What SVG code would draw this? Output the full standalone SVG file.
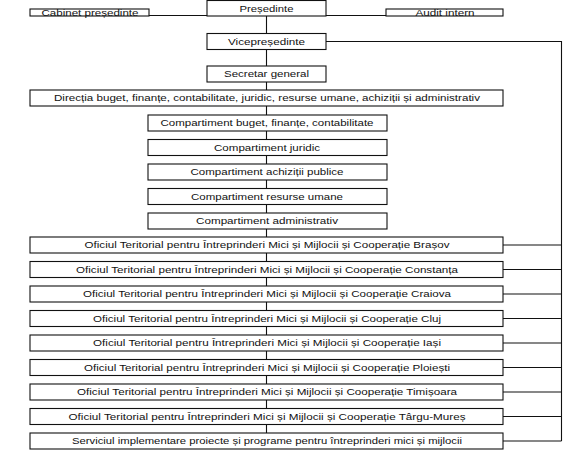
<svg xmlns="http://www.w3.org/2000/svg" width="567" height="451" viewBox="0 0 567 451">
<style>
rect{fill:#fff;stroke:#111;stroke-width:1.1}
text{font-family:"Liberation Sans",Arial,sans-serif;font-size:9px;fill:#111;text-anchor:middle}
#connectors path{fill:none;stroke:#111;stroke-width:1.1}
</style>
<rect x="0" y="0" width="567" height="451" style="stroke:none"/>
<g id="connectors">
<path d="M149 15.5H207M326 15.5H386"/>
<path d="M266.5 16V33.5M266.5 49.5V66M266.5 82V90M266.5 106V115M266.5 131V139.5M266.5 155.5V164M266.5 180V188.5M266.5 204.5V213M266.5 229V237M266.5 253V261.5M266.5 277.5V286M266.5 302V310.5M266.5 326.5V335M266.5 351V359.5M266.5 375.5V384M266.5 400V408.5M266.5 424.5V433"/>
<path d="M326 41.5H561.5V441M503 245H561.5M503 269.5H561.5M503 294H561.5M503 318.5H561.5M503 343H561.5M503 367.5H561.5M503 392H561.5M503 416.5H561.5M503 441H561.5"/>
</g>
<g id="presedinte"><rect x="207" y="0.5" width="119" height="15.5"/><text x="266.5" y="11.5" textLength="54" lengthAdjust="spacingAndGlyphs">Președinte</text></g>
<g id="cabinet"><rect x="30" y="9" width="119" height="7"/><text x="90" y="15.5" textLength="97" lengthAdjust="spacingAndGlyphs">Cabinet președinte</text></g>
<g id="audit"><rect x="386" y="9" width="117" height="7"/><text x="445" y="15.5" textLength="59" lengthAdjust="spacingAndGlyphs">Audit intern</text></g>
<g id="vicepresedinte"><rect x="207" y="33.5" width="119" height="16"/><text x="266.5" y="44.7" textLength="77" lengthAdjust="spacingAndGlyphs">Vicepreședinte</text></g>
<g id="secretar"><rect x="207" y="66" width="119" height="16"/><text x="266.5" y="77.2" textLength="85" lengthAdjust="spacingAndGlyphs">Secretar general</text></g>
<g id="directia"><rect x="30" y="90" width="473" height="16"/><text x="267" y="101.2" textLength="426" lengthAdjust="spacingAndGlyphs">Direcția buget, finanțe, contabilitate, juridic, resurse umane, achiziții și administrativ</text></g>
<g id="c-buget"><rect x="148" y="115" width="239" height="16"/><text x="267" y="126.2" textLength="213" lengthAdjust="spacingAndGlyphs">Compartiment buget, finanțe, contabilitate</text></g>
<g id="c-juridic"><rect x="148" y="139.5" width="239" height="16"/><text x="267" y="150.7" textLength="106" lengthAdjust="spacingAndGlyphs">Compartiment juridic</text></g>
<g id="c-achizitii"><rect x="148" y="164" width="239" height="16"/><text x="267" y="175.2" textLength="153" lengthAdjust="spacingAndGlyphs">Compartiment achiziții publice</text></g>
<g id="c-resurse"><rect x="148" y="188.5" width="239" height="16"/><text x="267" y="199.7" textLength="152" lengthAdjust="spacingAndGlyphs">Compartiment resurse umane</text></g>
<g id="c-admin"><rect x="148" y="213" width="239" height="16"/><text x="267" y="224.2" textLength="142" lengthAdjust="spacingAndGlyphs">Compartiment administrativ</text></g>
<g id="o-brasov"><rect x="30" y="237" width="473" height="16"/><text x="267" y="248.2" textLength="365" lengthAdjust="spacingAndGlyphs">Oficiul Teritorial pentru Întreprinderi Mici și Mijlocii și Cooperație Brașov</text></g>
<g id="o-constanta"><rect x="30" y="261.5" width="473" height="16"/><text x="267" y="272.7" textLength="382" lengthAdjust="spacingAndGlyphs">Oficiul Teritorial pentru Întreprinderi Mici și Mijlocii și Cooperație Constanța</text></g>
<g id="o-craiova"><rect x="30" y="286" width="473" height="16"/><text x="267" y="297.2" textLength="368" lengthAdjust="spacingAndGlyphs">Oficiul Teritorial pentru Întreprinderi Mici și Mijlocii și Cooperație Craiova</text></g>
<g id="o-cluj"><rect x="30" y="310.5" width="473" height="16"/><text x="267" y="321.7" textLength="348" lengthAdjust="spacingAndGlyphs">Oficiul Teritorial pentru Întreprinderi Mici și Mijlocii și Cooperație Cluj</text></g>
<g id="o-iasi"><rect x="30" y="335" width="473" height="16"/><text x="267" y="346.2" textLength="348" lengthAdjust="spacingAndGlyphs">Oficiul Teritorial pentru Întreprinderi Mici și Mijlocii și Cooperație Iași</text></g>
<g id="o-ploiesti"><rect x="30" y="359.5" width="473" height="16"/><text x="267" y="370.7" textLength="366" lengthAdjust="spacingAndGlyphs">Oficiul Teritorial pentru Întreprinderi Mici și Mijlocii și Cooperație Ploiești</text></g>
<g id="o-timisoara"><rect x="30" y="384" width="473" height="16"/><text x="267" y="395.2" textLength="380" lengthAdjust="spacingAndGlyphs">Oficiul Teritorial pentru Întreprinderi Mici și Mijlocii și Cooperație Timișoara</text></g>
<g id="o-targu-mures"><rect x="30" y="408.5" width="473" height="16"/><text x="267" y="419.7" textLength="397" lengthAdjust="spacingAndGlyphs">Oficiul Teritorial pentru Întreprinderi Mici și Mijlocii și Cooperație Târgu-Mureș</text></g>
<g id="serviciul"><rect x="30" y="433" width="473" height="16"/><text x="267" y="444.2" textLength="390" lengthAdjust="spacingAndGlyphs">Serviciul implementare proiecte și programe pentru întreprinderi mici și mijlocii</text></g>
</svg>
